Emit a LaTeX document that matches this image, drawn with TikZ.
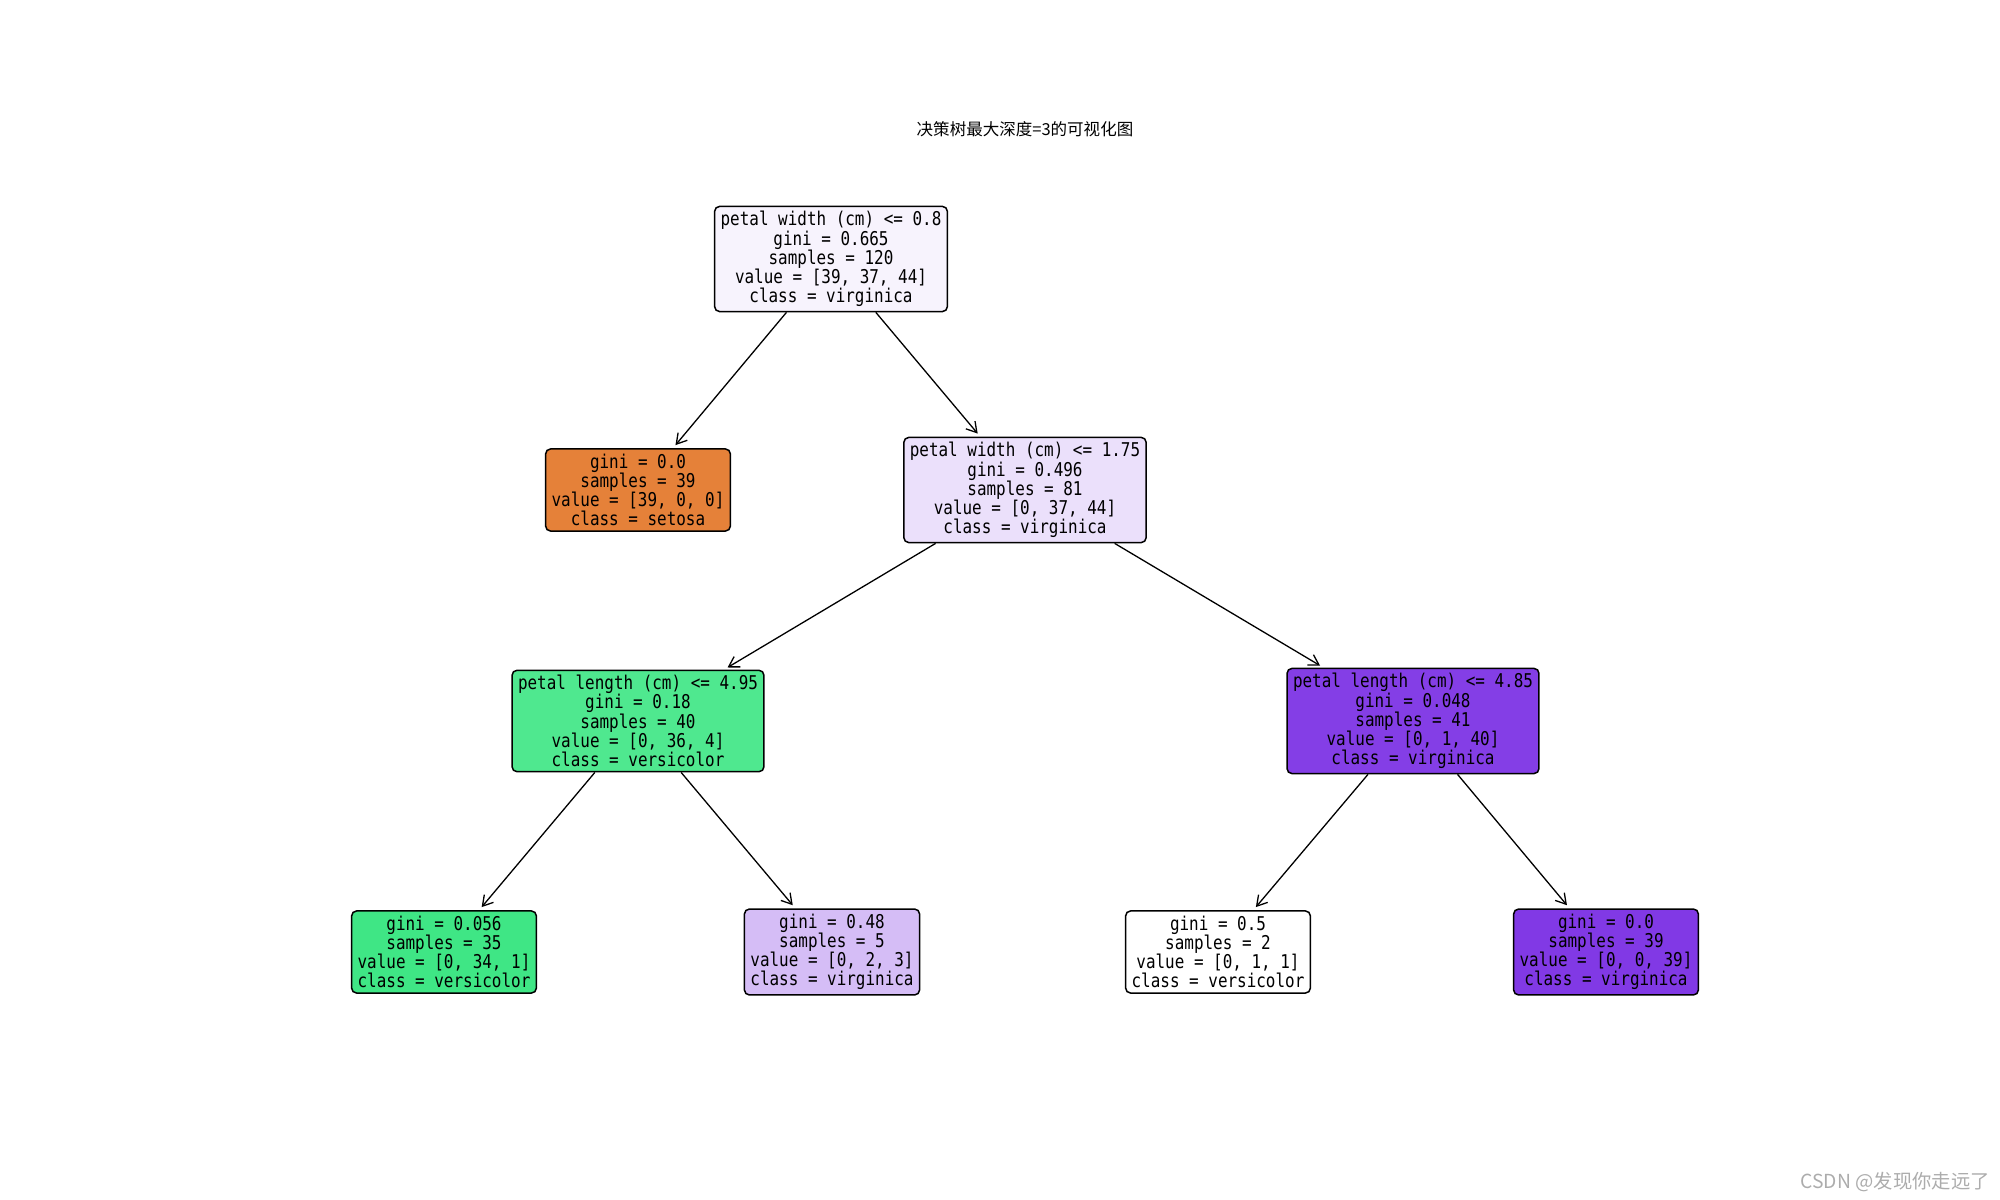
\documentclass[tikz,border=0pt]{standalone}
\usepackage{fontspec}
\usetikzlibrary{arrows.meta}
\newfontfamily\boxfont[FakeStretch=0.84]{DejaVu Sans Mono}
\newfontfamily\cjkfont{Noto Sans CJK SC}
\definecolor{rootfill}{HTML}{F7F3FD}
\definecolor{setosafill}{HTML}{E58139}
\definecolor{midfill}{HTML}{EBE0FB}
\definecolor{lowfill}{HTML}{4FE88F}
\definecolor{highfill}{HTML}{843EE6}
\definecolor{leafafill}{HTML}{3FE685}
\definecolor{leafbfill}{HTML}{D5BDF6}
\definecolor{leafdfill}{HTML}{8139E5}

\begin{document}
\begin{tikzpicture}[
        x=0.2mm, y=-0.2mm,
        tnode/.style={draw=black, line width=0.3mm, rounded corners=1mm, align=center,
            inner xsep=1.2mm, inner ysep=1mm, font=\boxfont\fontsize{10.8}{10.9}\selectfont},
        arr/.style={-{Straight Barb[length=2mm, width=2.4mm]}, line width=0.26mm, shorten >=0.8mm},
        titlelab/.style={font=\cjkfont\fontsize{9.4}{11}\selectfont},
        marklab/.style={font=\cjkfont\fontsize{11}{13}\selectfont, text=gray!65, anchor=south east, inner sep=0pt},
    ]
    \useasboundingbox (0,0) rectangle (2000,1200);

    \node[titlelab] (title) at (1025,129) {决策树最大深度=3的可视化图};

    % depth 0
    \node[tnode, fill=rootfill] (root) at (831,259)
        {petal width (cm) <= 0.8\\gini = 0.665\\samples = 120\\value = [39, 37, 44]\\class = virginica};

    % depth 1
    \node[tnode, fill=setosafill] (setosa) at (638,490)
        {gini = 0.0\\samples = 39\\value = [39, 0, 0]\\class = setosa};
    \node[tnode, fill=midfill] (pw) at (1025,490)
        {petal width (cm) <= 1.75\\gini = 0.496\\samples = 81\\value = [0, 37, 44]\\class = virginica};

    % depth 2
    \node[tnode, fill=lowfill] (pllow) at (638,721)
        {petal length (cm) <= 4.95\\gini = 0.18\\samples = 40\\value = [0, 36, 4]\\class = versicolor};
    \node[tnode, fill=highfill] (plhigh) at (1413,721)
        {petal length (cm) <= 4.85\\gini = 0.048\\samples = 41\\value = [0, 1, 40]\\class = virginica};

    % depth 3
    \node[tnode, fill=leafafill] (leafa) at (444,952)
        {gini = 0.056\\samples = 35\\value = [0, 34, 1]\\class = versicolor};
    \node[tnode, fill=leafbfill] (leafb) at (832,952)
        {gini = 0.48\\samples = 5\\value = [0, 2, 3]\\class = virginica};
    \node[tnode, fill=white] (leafc) at (1218,952)
        {gini = 0.5\\samples = 2\\value = [0, 1, 1]\\class = versicolor};
    \node[tnode, fill=leafdfill] (leafd) at (1606,952)
        {gini = 0.0\\samples = 39\\value = [0, 0, 39]\\class = virginica};

    \draw[arr] (root) -- (setosa);
    \draw[arr] (root) -- (pw);
    \draw[arr] (pw) -- (pllow);
    \draw[arr] (pw) -- (plhigh);
    \draw[arr] (pllow) -- (leafa);
    \draw[arr] (pllow) -- (leafb);
    \draw[arr] (plhigh) -- (leafc);
    \draw[arr] (plhigh) -- (leafd);

    \node[marklab] (mark) at (1990,1192) {CSDN @发现你走远了};

\end{tikzpicture}
\end{document}
